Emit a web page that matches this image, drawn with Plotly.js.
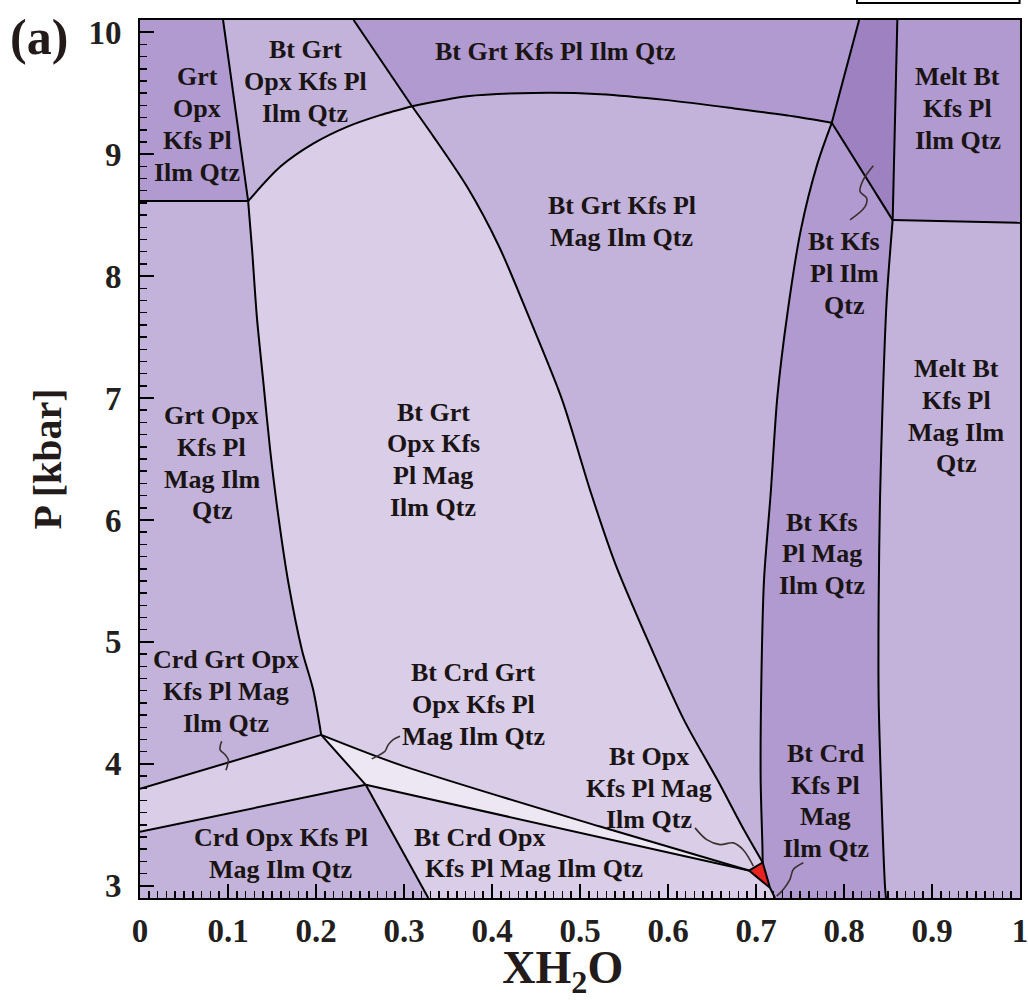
<!DOCTYPE html>
<html><head><meta charset="utf-8">
<script src="https://cdn.plot.ly/plotly-3.0.1.min.js"></script>
<style>body{margin:0;background:#fff}</style>
</head><body>
<div id="chart" style="width:1028px;height:1000px"></div>
<script>
const XMIN = 0, XMAX = 1, YMIN = 2.9, YMAX = 10.1;

// ---- phase boundary curves (XH2O, P kbar) ----
const L1x = [0.0944, 0.1229, 0.1274, 0.1328, 0.1403, 0.1479, 0.1573, 0.1687, 0.1840, 0.1968, 0.2059];
const L1y = [10.1, 8.615, 8.213, 7.666, 7.120, 6.574, 6.027, 5.481, 4.934, 4.607, 4.238];
const L2x = [0, 0.1229];
const L2y = [8.615, 8.615];
const L3x = [0.1229, 0.1593, 0.1972, 0.2352, 0.2730, 0.3091];
const L3y = [8.615, 8.896, 9.088, 9.224, 9.320, 9.393];
const L4x = [0.2427, 0.3091];
const L4y = [10.1, 9.393];
const L5x = [0.3091, 0.3717, 0.4471, 0.5233, 0.5992, 0.6750, 0.7509, 0.7861];
const L5y = [9.393, 9.475, 9.502, 9.492, 9.443, 9.375, 9.301, 9.257];
const L6x = [0.3091, 0.3337, 0.3717, 0.4080, 0.4432, 0.4795, 0.5125, 0.5398, 0.5802, 0.6181, 0.6561, 0.6863, 0.7076];
const L6y = [9.393, 9.142, 8.732, 8.243, 7.642, 6.989, 6.221, 5.647, 4.961, 4.361, 3.869, 3.459, 3.191];
const L7x = [0.8172, 0.7861, 0.7699, 0.7509, 0.7357, 0.7243, 0.7167, 0.7091, 0.7061, 0.7053, 0.7073, 0.7076];
const L7y = [10.1, 9.257, 8.924, 8.377, 7.694, 7.011, 6.219, 5.508, 4.689, 3.869, 3.322, 3.191];
const L8x = [0.7861, 0.8553];
const L8y = [9.257, 8.459];
const L9x = [0.8606, 0.8553];
const L9y = [10.1, 8.459];
const L10x = [0.8553, 1.0];
const L10y = [8.459, 8.437];
const L11x = [0.8553, 0.8485, 0.8440, 0.8409, 0.8394, 0.8394, 0.8428, 0.8466, 0.8477];
const L11y = [8.459, 7.803, 6.984, 6.164, 5.344, 4.525, 3.680, 2.994, 2.9];
const L12ax = [0, 0.2059];
const L12ay = [3.795, 4.238];
const L12bx = [0, 0.2565];
const L12by = [3.443, 3.828];
const L13x = [0.2059, 0.2565];
const L13y = [4.238, 3.828];
const L14x = [0.2565, 0.3276];
const L14y = [3.828, 2.9];
const L15x = [0.2059, 0.2955, 0.5227, 0.6920];
const L15y = [4.238, 3.992, 3.486, 3.125];
const L16x = [0.2565, 0.6920];
const L16y = [3.828, 3.125];
const TRIx = [0.6920, 0.7076, 0.7159];   // small red field
const TRIy = [3.125, 3.191, 2.984];
const L17x = [0.7159, 0.7216];
const L17y = [2.984, 2.9];

// ---- squiggle leader lines ----
const S1x = [0.0928, 0.0909, 0.0966, 0.1003, 0.0977];
const S1y = [4.185, 4.118, 4.076, 4.036, 3.948];
const S2x = [0.2633, 0.2727, 0.2784, 0.2822, 0.2878, 0.2955];
const S2y = [4.041, 4.076, 4.103, 4.158, 4.199, 4.226];
const S3x = [0.6307, 0.6440, 0.6591, 0.6742, 0.6856, 0.6970];
const S3y = [3.475, 3.379, 3.338, 3.352, 3.294, 3.161];
const S4x = [0.7235, 0.7310, 0.7386, 0.7424, 0.7538];
const S4y = [2.915, 2.970, 3.052, 3.134, 3.189];
const S5x = [0.8333, 0.8219, 0.8182, 0.8258, 0.8239, 0.8068];
const S5y = [8.904, 8.789, 8.693, 8.639, 8.570, 8.461];

// ---- field labels ----
const labelText = [
  ["Grt", "Opx", "Kfs Pl", "Ilm Qtz"],
  ["Bt Grt", "Opx Kfs Pl", "Ilm Qtz"],
  ["Bt Grt Kfs Pl Ilm Qtz"],
  ["Melt Bt", "Kfs Pl", "Ilm Qtz"],
  ["Bt Grt Kfs Pl", "Mag Ilm Qtz"],
  ["Bt Kfs", "Pl Ilm", "Qtz"],
  ["Grt Opx", "Kfs Pl", "Mag Ilm", "Qtz"],
  ["Bt Grt", "Opx Kfs", "Pl Mag", "Ilm Qtz"],
  ["Melt Bt", "Kfs Pl", "Mag Ilm", "Qtz"],
  ["Bt Kfs", "Pl Mag", "Ilm Qtz"],
  ["Crd Grt Opx", "Kfs Pl Mag", "Ilm Qtz"],
  ["Bt Crd Grt", "Opx Kfs Pl", "Mag Ilm Qtz"],
  ["Bt Opx", "Kfs Pl Mag", "Ilm Qtz"],
  ["Bt Crd", "Kfs Pl", "Mag", "Ilm Qtz"],
  ["Crd Opx Kfs Pl", "Mag Ilm Qtz"],
  ["Bt Crd Opx"],
  ["Kfs Pl Mag Ilm Qtz"]
];
const labelX = [0.0648, 0.1875, 0.4716, 0.9295, 0.5474, 0.8000, 0.0815, 0.3330, 0.9273, 0.7753, 0.0975, 0.3788, 0.5784, 0.7794, 0.1600, 0.3854, 0.4479];
const labelY = [9.244, 9.597, 9.839, 9.375, 8.445, 8.023, 6.466, 6.494, 6.851, 5.722, 4.595, 4.486, 3.801, 3.696, 3.264, 3.393, 3.139];

const xTickVals = [0, 0.1, 0.2, 0.3, 0.4, 0.5, 0.6, 0.7, 0.8, 0.9, 1];
const xTickText = ["0", "0.1", "0.2", "0.3", "0.4", "0.5", "0.6", "0.7", "0.8", "0.9", "1"];
const yTickVals = [3, 4, 5, 6, 7, 8, 9, 10];
const yTickText = ["3", "4", "5", "6", "7", "8", "9", "10"];

// ---- build ----
const P = (xs, ys) => xs.map((x, i) => [x, ys[i]]);
const rev = a => a.slice().reverse();
const pL1 = P(L1x, L1y), pL3 = P(L3x, L3y), pL4 = P(L4x, L4y), pL5 = P(L5x, L5y);
const pL6 = P(L6x, L6y), pL7 = P(L7x, L7y), pL9 = P(L9x, L9y), pL10 = P(L10x, L10y);
const pL11 = P(L11x, L11y), pL15 = P(L15x, L15y), pL16 = P(L16x, L16y);
const J1 = pL1[1], J5 = pL1[pL1.length - 1], J3 = pL7[1], J4 = pL9[1];
const J6 = [L13x[1], L13y[1]];
const A = [TRIx[0], TRIy[0]], B = [TRIx[1], TRIy[1]], C = [TRIx[2], TRIy[2]];
const botC = [L17x[1], L17y[1]], botL = [L14x[1], L14y[1]];

const MED = '#b09acf', DARK = '#9e81c1', LIGHT = '#c3b3da', LIGHTEST = '#d9cde8', PALE = '#ede7f4', RED = '#e8231f';

const regions = [
  [[[XMIN, YMAX], pL1[0], J1, [XMIN, L2y[0]]], MED],
  [[pL1[0], J1, ...pL3.slice(1), pL4[0]], LIGHT],
  [[pL4[0], ...pL5, pL7[0]], MED],
  [[pL7[0], J3, J4, pL9[0]], DARK],
  [[pL9[0], J4, pL10[1], [XMAX, YMAX]], MED],
  [[...pL7.slice(1), C, botC, ...rev(pL11)], MED],
  [[...pL10, [XMAX, YMIN], ...rev(pL11)], LIGHT],
  [[...pL5, ...pL7.slice(2), ...rev(pL6)], LIGHT],
  [[...pL3, ...pL6.slice(1), A, ...rev(pL15), ...rev(pL1.slice(1))], LIGHTEST],
  [[[XMIN, L2y[0]], ...pL1.slice(1), [XMIN, L12ay[0]]], LIGHT],
  [[[XMIN, L12ay[0]], J5, J6, [XMIN, L12by[0]]], LIGHTEST],
  [[[XMIN, L12by[0]], J6, botL, [XMIN, YMIN]], LIGHT],
  [[...pL15, ...rev(pL16)], PALE],
  [[J6, A, C, botC, botL], LIGHTEST],
  [[A, B, C], RED]
];

const traces = [];
regions.forEach(([pts, col]) => {
  traces.push({
    x: pts.map(p => p[0]), y: pts.map(p => p[1]),
    type: 'scatter', mode: 'lines', fill: 'toself', fillcolor: col,
    line: {width: 0, color: col}, hoverinfo: 'skip', showlegend: false
  });
});
// straight boundaries
const straight = [[L1x.slice(0, 2), L1y.slice(0, 2)], [L2x, L2y], [L4x, L4y],
  [L7x.slice(0, 2), L7y.slice(0, 2)], [L8x, L8y], [L9x, L9y], [L10x, L10y], [L12ax, L12ay], [L12bx, L12by],
  [L13x, L13y], [L14x, L14y], [L16x, L16y], [TRIx.concat([TRIx[0]]), TRIy.concat([TRIy[0]])], [L17x, L17y]];
straight.forEach(([xs, ys]) => {
  traces.push({x: xs, y: ys, type: 'scatter', mode: 'lines',
    line: {color: '#000', width: 2}, hoverinfo: 'skip', showlegend: false});
});
// curved boundaries
const curved = [[L1x.slice(1), L1y.slice(1)], [L3x, L3y], [L5x, L5y], [L6x, L6y],
  [L7x.slice(1), L7y.slice(1)], [L11x, L11y], [L15x, L15y]];
curved.forEach(([xs, ys]) => {
  traces.push({x: xs, y: ys, type: 'scatter', mode: 'lines',
    line: {color: '#000', width: 2, shape: 'spline', smoothing: 0.8}, hoverinfo: 'skip', showlegend: false});
});
[[S1x, S1y], [S2x, S2y], [S3x, S3y], [S4x, S4y], [S5x, S5y]].forEach(([xs, ys]) => {
  traces.push({x: xs, y: ys, type: 'scatter', mode: 'lines',
    line: {color: '#3a302f', width: 1.6, shape: 'spline', smoothing: 1}, hoverinfo: 'skip', showlegend: false});
});

const FONT = 'Liberation Serif, Times New Roman, serif';
const annotations = [];
const LS = 31.8;
labelText.forEach((lines, k) => {
  const n = lines.length;
  lines.forEach((t, i) => {
    annotations.push({x: labelX[k], y: labelY[k], xref: 'x', yref: 'y', text: t, showarrow: false,
      yshift: ((n - 1) / 2 - i) * LS, xanchor: 'center', yanchor: 'middle',
      font: {family: FONT, size: 26, color: '#1a1414', weight: 'bold'}});
  });
});
annotations.push({xref: 'paper', yref: 'paper', x: -0.1148, y: 0.981, xanchor: 'center', yanchor: 'middle',
  text: '(a)', showarrow: false, font: {family: FONT, size: 50, color: '#231a1a', weight: 'bold'}});

const axCommon = {
  showline: true, linecolor: '#000', linewidth: 2, mirror: true,
  ticks: 'inside', ticklen: 14, tickwidth: 2, tickcolor: '#000',
  showgrid: false, zeroline: false, tickmode: 'array', ticklabeloverflow: 'allow',
  tickfont: {family: FONT, size: 33, color: '#231f20', weight: 'bold'}
};

const layout = {
  width: 1028, height: 1000,
  margin: {l: 140, r: 8, t: 20, b: 102},
  paper_bgcolor: '#fff', plot_bgcolor: '#fff',
  showlegend: false,
  xaxis: Object.assign({}, axCommon, {
    range: [XMIN, XMAX], tickvals: xTickVals, ticktext: xTickText, ticklabelstandoff: 2,
    minor: {dtick: 0.01, tick0: 0, ticks: 'inside', ticklen: 7, tickwidth: 1.5, tickcolor: '#000', showgrid: false},
    title: {text: 'XH<sub>2</sub>O&nbsp;&nbsp;&nbsp;', standoff: 8, font: {family: FONT, size: 46, color: '#231a1a', weight: 'bold'}}
  }),
  yaxis: Object.assign({}, axCommon, {
    range: [YMIN, YMAX], tickvals: yTickVals, ticktext: yTickText, ticklabelstandoff: 10,
    minor: {dtick: 0.1, tick0: 3, ticks: 'inside', ticklen: 7, tickwidth: 1.5, tickcolor: '#000', showgrid: false},
    title: {text: 'P [kbar]', standoff: 14, font: {family: FONT, size: 40, color: '#231a1a', weight: 'bold'}}
  }),
  annotations: annotations,
  shapes: [{type: 'rect', xref: 'paper', yref: 'paper', x0: 0.8148, x1: 0.9995, y0: 1.0194, y1: 1.1,
    line: {color: '#000', width: 2}, fillcolor: '#fff', layer: 'above'}]
};

Plotly.newPlot('chart', traces, layout, {staticPlot: true, displayModeBar: false});
</script>
</body></html>
